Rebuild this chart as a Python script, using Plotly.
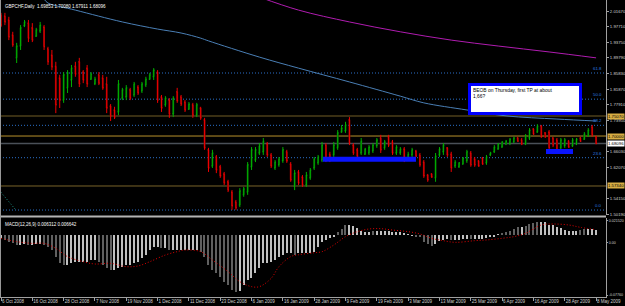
import plotly.graph_objects as go

# ---------------- data ----------------
symbol_title = "GBPCHF,Daily"
tick_bars = list(range(0, 153, 8))
tick_dates = ["6 Oct 2008", "16 Oct 2008", "28 Oct 2008", "7 Nov 2008", "19 Nov 2008",
              "1 Dec 2008", "11 Dec 2008", "23 Dec 2008", "6 Jan 2009", "16 Jan 2009",
              "28 Jan 2009", "9 Feb 2009", "19 Feb 2009", "3 Mar 2009", "13 Mar 2009",
              "25 Mar 2009", "6 Apr 2009", "16 Apr 2009", "28 Apr 2009", "8 May 2009"]

opens = [
    2.007, 2.004, 1.994, 1.956, 1.898, 1.928, 1.979, 1.986, 1.974, 1.953,
    1.966, 1.976, 1.921, 1.905, 1.877, 1.847, 1.791, 1.822, 1.842, 1.877,
    1.888, 1.862, 1.872, 1.844, 1.832, 1.855, 1.847, 1.832, 1.776, 1.766,
    1.761, 1.796, 1.799, 1.817, 1.804, 1.824, 1.814, 1.829, 1.844, 1.850,
    1.862, 1.799, 1.779, 1.791, 1.756, 1.812, 1.799, 1.786, 1.768, 1.779,
    1.753, 1.771, 1.741, 1.665, 1.624, 1.647, 1.622, 1.604, 1.584, 1.558,
    1.533, 1.525, 1.551, 1.558, 1.622, 1.639, 1.657, 1.660, 1.680, 1.652,
    1.619, 1.627, 1.637, 1.660, 1.629, 1.573, 1.609, 1.596, 1.576, 1.594,
    1.619, 1.632, 1.639, 1.677, 1.654, 1.652, 1.670, 1.710, 1.713, 1.741,
    1.677, 1.665, 1.657, 1.654, 1.657, 1.662, 1.675, 1.695, 1.670, 1.698,
    1.685, 1.657, 1.657, 1.667, 1.644, 1.652, 1.662, 1.652, 1.634, 1.601,
    1.604, 1.594, 1.652, 1.660, 1.670, 1.654, 1.624, 1.622, 1.629, 1.637,
    1.657, 1.642, 1.637, 1.644, 1.632, 1.652, 1.660, 1.667, 1.672, 1.680,
    1.682, 1.685, 1.695, 1.690, 1.680, 1.695, 1.718, 1.710, 1.725, 1.708,
    1.710, 1.695, 1.690, 1.670, 1.675, 1.687, 1.675, 1.680, 1.695, 1.692,
    1.700, 1.723, 1.69853]
highs = [
    2.012, 2.012, 2.002, 1.964, 1.936, 1.981, 1.994, 1.994, 1.986, 1.974,
    1.989, 1.981, 1.926, 1.918, 1.888, 1.855, 1.862, 1.867, 1.880, 1.888,
    1.898, 1.867, 1.880, 1.862, 1.850, 1.862, 1.855, 1.850, 1.781, 1.774,
    1.842, 1.822, 1.829, 1.822, 1.837, 1.829, 1.837, 1.850, 1.860, 1.872,
    1.867, 1.804, 1.801, 1.796, 1.801, 1.822, 1.804, 1.791, 1.786, 1.784,
    1.784, 1.774, 1.746, 1.670, 1.665, 1.652, 1.627, 1.609, 1.589, 1.563,
    1.538, 1.568, 1.571, 1.634, 1.672, 1.672, 1.682, 1.695, 1.685, 1.657,
    1.639, 1.647, 1.672, 1.665, 1.634, 1.614, 1.614, 1.601, 1.609, 1.619,
    1.647, 1.652, 1.685, 1.682, 1.660, 1.685, 1.715, 1.728, 1.736, 1.748,
    1.682, 1.670, 1.695, 1.670, 1.677, 1.682, 1.695, 1.703, 1.690, 1.703,
    1.690, 1.677, 1.672, 1.672, 1.660, 1.670, 1.665, 1.657, 1.639, 1.604,
    1.606, 1.657, 1.672, 1.682, 1.672, 1.660, 1.639, 1.634, 1.647, 1.665,
    1.662, 1.647, 1.639, 1.647, 1.652, 1.660, 1.677, 1.682, 1.687, 1.690,
    1.695, 1.698, 1.698, 1.695, 1.705, 1.720, 1.720, 1.730, 1.728, 1.710,
    1.715, 1.698, 1.695, 1.695, 1.695, 1.690, 1.695, 1.695, 1.698, 1.710,
    1.720, 1.728, 1.70080]
lows = [
    1.976, 1.981, 1.943, 1.926, 1.885, 1.918, 1.976, 1.938, 1.938, 1.951,
    1.961, 1.918, 1.880, 1.867, 1.758, 1.771, 1.784, 1.809, 1.824, 1.850,
    1.824, 1.834, 1.824, 1.842, 1.829, 1.829, 1.817, 1.758, 1.738, 1.743,
    1.753, 1.791, 1.791, 1.791, 1.799, 1.804, 1.809, 1.824, 1.842, 1.842,
    1.784, 1.761, 1.774, 1.746, 1.748, 1.784, 1.776, 1.761, 1.766, 1.746,
    1.748, 1.741, 1.665, 1.609, 1.619, 1.606, 1.594, 1.576, 1.558, 1.513,
    1.513, 1.520, 1.546, 1.551, 1.614, 1.634, 1.652, 1.652, 1.647, 1.619,
    1.614, 1.622, 1.632, 1.632, 1.584, 1.563, 1.576, 1.571, 1.571, 1.589,
    1.614, 1.627, 1.634, 1.634, 1.634, 1.647, 1.665, 1.708, 1.708, 1.677,
    1.652, 1.644, 1.652, 1.652, 1.652, 1.657, 1.670, 1.657, 1.665, 1.672,
    1.652, 1.652, 1.652, 1.634, 1.639, 1.647, 1.647, 1.622, 1.594, 1.584,
    1.594, 1.584, 1.647, 1.652, 1.647, 1.609, 1.619, 1.619, 1.627, 1.632,
    1.622, 1.622, 1.622, 1.627, 1.627, 1.649, 1.657, 1.665, 1.670, 1.677,
    1.677, 1.682, 1.685, 1.677, 1.677, 1.690, 1.703, 1.708, 1.695, 1.695,
    1.665, 1.672, 1.660, 1.665, 1.670, 1.670, 1.672, 1.677, 1.685, 1.690,
    1.698, 1.698, 1.67911]
closes = [
    1.981, 1.989, 1.951, 1.931, 1.928, 1.974, 1.989, 1.948, 1.943, 1.969,
    1.981, 1.926, 1.888, 1.875, 1.779, 1.791, 1.855, 1.860, 1.872, 1.857,
    1.832, 1.842, 1.832, 1.857, 1.844, 1.834, 1.822, 1.771, 1.751, 1.748,
    1.832, 1.817, 1.822, 1.796, 1.832, 1.809, 1.832, 1.844, 1.855, 1.867,
    1.791, 1.771, 1.796, 1.756, 1.796, 1.789, 1.781, 1.766, 1.781, 1.753,
    1.779, 1.746, 1.670, 1.619, 1.657, 1.614, 1.599, 1.581, 1.563, 1.523,
    1.518, 1.561, 1.566, 1.627, 1.665, 1.665, 1.675, 1.687, 1.652, 1.624,
    1.634, 1.642, 1.665, 1.637, 1.589, 1.606, 1.581, 1.576, 1.601, 1.614,
    1.642, 1.647, 1.677, 1.639, 1.639, 1.677, 1.708, 1.720, 1.728, 1.682,
    1.657, 1.649, 1.687, 1.667, 1.672, 1.677, 1.690, 1.665, 1.685, 1.677,
    1.657, 1.672, 1.667, 1.639, 1.654, 1.665, 1.649, 1.627, 1.599, 1.589,
    1.596, 1.649, 1.667, 1.677, 1.652, 1.619, 1.634, 1.632, 1.644, 1.660,
    1.627, 1.627, 1.624, 1.629, 1.647, 1.657, 1.672, 1.680, 1.685, 1.687,
    1.692, 1.695, 1.687, 1.680, 1.700, 1.715, 1.705, 1.725, 1.700, 1.698,
    1.670, 1.677, 1.665, 1.690, 1.690, 1.672, 1.690, 1.692, 1.687, 1.705,
    1.715, 1.703, 1.68096]

# moving averages (read at sample bars)
ma_blue_bars = [11, 12, 19, 31, 40, 46, 51, 53, 66, 76, 89, 102, 108, 119, 129, 142, 152]
ma_blue_vals = [2.047, 2.037, 2.019, 1.989, 1.971, 1.961, 1.948, 1.941, 1.900, 1.872,
                1.837, 1.801, 1.784, 1.766, 1.751, 1.743, 1.738]
ma_mag_bars = [66, 76, 89, 102, 115, 127, 140, 152]
ma_mag_vals = [2.052, 2.019, 1.989, 1.964, 1.943, 1.928, 1.913, 1.898]

# fibonacci retracement
fib_low = 1.5125
fib_high = 2.0742
fib_levels = [0.0, 23.6, 38.2, 50.0, 61.8, 100.0]
fib_trend_bars = [-1.0, 3.8]
fib_trend_vals = [1.569, 1.5125]

# horizontal support / resistance lines
sr_levels = [1.7507, 1.7000, 1.5734]
sr_colors = ["#735f27", "#b8922c", "#7a632a"]

# blue rectangles (bar from, bar to, top, bottom)
rect_x0 = [82.2, 139.2]
rect_x1 = [106.0, 146.1]
rect_top = [1.6476, 1.6671]
rect_bot = [1.6349, 1.6544]

note_text = "BEOB on Thursday, first TP at about<br>1,66?"
note_bar = 119.2
note_price = 1.8343

price_ticks = [2.01670, 1.97710, 1.93750, 1.89790, 1.85830, 1.81870, 1.77910,
               1.73950, 1.66030, 1.62070, 1.54150, 1.50190]

# MACD(12,26,9) main values (histogram) read per bar
macd = [
    -0.0042, -0.0063, -0.0084, -0.0106, -0.0127, -0.0127, -0.0118, -0.0127, -0.0127, -0.0118,
    -0.0118, -0.0127, -0.0148, -0.0190, -0.0274, -0.0359, -0.0380, -0.0380, -0.0359, -0.0338,
    -0.0338, -0.0338, -0.0338, -0.0317, -0.0317, -0.0338, -0.0380, -0.0422, -0.0443, -0.0443,
    -0.0422, -0.0401, -0.0380, -0.0380, -0.0359, -0.0338, -0.0295, -0.0253, -0.0190, -0.0148,
    -0.0148, -0.0169, -0.0169, -0.0190, -0.0190, -0.0190, -0.0190, -0.0190, -0.0190, -0.0190,
    -0.0190, -0.0211, -0.0274, -0.0380, -0.0443, -0.0485, -0.0528, -0.0591, -0.0633, -0.0696,
    -0.0722, -0.0705, -0.0633, -0.0570, -0.0549, -0.0485, -0.0422, -0.0359, -0.0359, -0.0338,
    -0.0317, -0.0274, -0.0253, -0.0232, -0.0232, -0.0253, -0.0232, -0.0232, -0.0232, -0.0232,
    -0.0211, -0.0148, -0.0084, -0.0063, -0.0042, -0.0013, 0.0034, 0.0072, 0.0127, 0.0127,
    0.0114, 0.0084, 0.0055, 0.0042, 0.0042, 0.0051, 0.0051, 0.0051, 0.0051, 0.0051,
    0.0042, 0.0034, 0.0034, 0.0021, 0.0004, -0.0004, -0.0013, -0.0030, -0.0084, -0.0114,
    -0.0139, -0.0114, -0.0072, -0.0063, -0.0055, -0.0063, -0.0063, -0.0063, -0.0055, -0.0051,
    -0.0055, -0.0055, -0.0055, -0.0051, -0.0042, -0.0030, -0.0013, 0.0004, 0.0021, 0.0042,
    0.0055, 0.0072, 0.0106, 0.0106, 0.0114, 0.0139, 0.0156, 0.0165, 0.0165, 0.0165,
    0.0127, 0.0127, 0.0106, 0.0084, 0.0063, 0.0055, 0.0055, 0.0051, 0.0063, 0.0072,
    0.0072, 0.0072, 0.006312]
signal_bars = [0, 4, 8, 11, 14, 17, 21, 24, 28, 32, 35, 38, 42, 45, 47, 51, 54, 58, 61, 64,
               66, 69, 71, 74, 76, 80, 82, 85, 88, 91, 94, 97, 100, 104, 107, 110, 113, 116,
               121, 124, 128, 131, 134, 138, 141, 145, 148, 152]
signal_vals = [-0.0042, -0.0084, -0.0106, -0.0106, -0.0169, -0.0274, -0.0338, -0.0367, -0.0359,
               -0.0401, -0.0392, -0.0338, -0.0253, -0.0211, -0.0190, -0.0211, -0.0317, -0.0464,
               -0.0591, -0.0654, -0.0654, -0.0549, -0.0401, -0.0274, -0.0250, -0.0225, -0.0211,
               -0.0127, -0.0021, 0.0042, 0.0076, 0.0080, 0.0063, 0.0042, 0.0013, -0.0042,
               -0.0072, -0.0093, -0.0072, -0.0063, -0.0042, -0.0021, 0.0021, 0.0127, 0.0139,
               0.0127, 0.0097, 0.006642]
macd_ticks = [0.0181, -0.0101, -0.0762]
macd_ticktext = ["0.021520", "0.00", "-0.07760"]

# ---------------- figure ----------------
FONT = "Liberation Sans, Arial, sans-serif"
FS_Y = 4.3
FS_Y2 = 3.6
FS_X = 4.5
FS_T = 4.5
FS_NOTE = 4.9
bars = list(range(len(closes)))
W, H = 625, 306
ML, MR, MT, MB = 0, 19, 0, 9
plot_w = W - ML - MR
px_per_bar = 3.915
xmin = -1 / px_per_bar
xmax = xmin + plot_w / px_per_bar
p_top, p_bot = 2.0446, 1.4999
main_dom = [0.2761, 1.0]
macd_dom = [0.0, 0.266]

fig = go.Figure()

fig.add_trace(go.Candlestick(
    x=bars, open=opens, high=highs, low=lows, close=closes,
    increasing=dict(fillcolor="#005a00", line=dict(color="#005a00", width=0)),
    decreasing=dict(fillcolor="#7a0000", line=dict(color="#7a0000", width=0)),
    whiskerwidth=0, hoverinfo="skip", xaxis="x", yaxis="y"))
fig.add_trace(go.Ohlc(
    x=bars, open=opens, high=highs, low=lows, close=closes,
    increasing=dict(line=dict(color="#00b000", width=1)),
    decreasing=dict(line=dict(color="#ee0000", width=1)),
    tickwidth=0.25, hoverinfo="skip", xaxis="x", yaxis="y"))

fig.add_trace(go.Scatter(x=ma_blue_bars, y=ma_blue_vals, mode="lines",
                         line=dict(color="#4a7fb5", width=1, shape="spline"),
                         hoverinfo="skip", xaxis="x", yaxis="y"))
fig.add_trace(go.Scatter(x=ma_mag_bars, y=ma_mag_vals, mode="lines",
                         line=dict(color="#b01cb0", width=1, shape="spline"),
                         hoverinfo="skip", xaxis="x", yaxis="y"))
fig.add_trace(go.Scatter(x=fib_trend_bars, y=fib_trend_vals, mode="lines",
                         line=dict(color="#1f9a8a", width=1, dash="1px,2px"),
                         hoverinfo="skip", xaxis="x", yaxis="y"))

# MACD histogram
hist_colors = []
for i, v in enumerate(macd):
    prev = macd[i - 1] if i > 0 else v
    hist_colors.append("#606060" if abs(v) > abs(prev) else "#c0c0c0")
fig.add_trace(go.Bar(x=bars, y=macd, marker=dict(color=hist_colors, line=dict(width=0)),
                     width=0.3, hoverinfo="skip", xaxis="x2", yaxis="y2"))
fig.add_trace(go.Scatter(x=signal_bars, y=signal_vals, mode="lines",
                         line=dict(color="#e00000", width=1, dash="1px,2px", shape="spline"),
                         hoverinfo="skip", xaxis="x2", yaxis="y2"))

shapes = []
fib_range = fib_high - fib_low
for lvl in fib_levels:
    price = fib_low + fib_range * lvl / 100.0
    shapes.append(dict(type="line", xref="paper", yref="y", x0=0, x1=1, y0=price, y1=price,
                       line=dict(color="#2a6fc8", width=1, dash="1px,2px"), layer="below"))
for lv, col in zip(sr_levels, sr_colors):
    shapes.append(dict(type="line", xref="paper", yref="y", x0=0, x1=1, y0=lv, y1=lv,
                       line=dict(color=col, width=1), layer="below"))
shapes.append(dict(type="line", xref="paper", yref="y", x0=0, x1=1, y0=closes[-1], y1=closes[-1],
                   line=dict(color="#4a5058", width=1.5), layer="below"))
for x0, x1, t, b in zip(rect_x0, rect_x1, rect_top, rect_bot):
    shapes.append(dict(type="rect", xref="x", yref="y", x0=x0, x1=x1, y0=b, y1=t,
                       fillcolor="#0a14ff", line=dict(width=0), layer="above"))
# panel separator and left border
shapes.append(dict(type="line", xref="paper", yref="paper", x0=0, x1=1,
                   y0=0.2711, y1=0.2711, line=dict(color="#b4b4b4", width=2)))
shapes.append(dict(type="line", xref="paper", yref="paper", x0=0.0008, x1=0.0008,
                   y0=0, y1=1, line=dict(color="#9a9a9a", width=1)))

annotations = []
for lvl in fib_levels[:-1]:
    price = fib_low + fib_range * lvl / 100.0
    annotations.append(dict(x=1, xref="paper", y=price, yref="y", text=f"{lvl:.1f}",
                            xanchor="right", yanchor="bottom", xshift=-2, yshift=0,
                            showarrow=False, font=dict(family=FONT, size=FS_Y, color="#2a7fe0")))
for lv in sr_levels:
    annotations.append(dict(x=1, xref="paper", y=lv, yref="y", text=f"{lv:.5f}",
                            xanchor="left", yanchor="middle", xshift=1, showarrow=False,
                            bgcolor="#d8ae44", borderpad=0,
                            font=dict(family=FONT, size=FS_Y, color="#000000")))
annotations.append(dict(x=1, xref="paper", y=closes[-1], yref="y", text=f"{closes[-1]:.5f}",
                        xanchor="left", yanchor="middle", xshift=1, showarrow=False,
                        bgcolor="#ffffff", borderpad=0,
                        font=dict(family=FONT, size=FS_Y, color="#000000")))
annotations.append(dict(x=0, xref="paper", y=1, yref="paper",
                        text=f"{symbol_title}  {opens[-1]:.5f} {highs[-1]:.5f} {lows[-1]:.5f} {closes[-1]:.5f}",
                        xanchor="left", yanchor="top", xshift=3, yshift=-2, showarrow=False,
                        font=dict(family=FONT, size=FS_T, color="#ffffff")))
annotations.append(dict(x=0, xref="paper", y=1, yref="y2 domain",
                        text=f"MACD(12,26,9) {macd[-1]:.6f} {signal_vals[-1]:.6f}",
                        xanchor="left", yanchor="top", xshift=3, yshift=-2, showarrow=False,
                        font=dict(family=FONT, size=FS_T, color="#ffffff")))
annotations.append(dict(x=note_bar, xref="x", y=note_price, yref="y", text=note_text,
                        xanchor="left", yanchor="top", align="left", valign="top",
                        width=104, height=22, showarrow=False, bgcolor="#ffffff",
                        bordercolor="#0000ff", borderwidth=3, borderpad=2,
                        font=dict(family=FONT, size=FS_NOTE, color="#000000")))

yfont = dict(family=FONT, size=FS_Y, color="#d0d0d0")
y2font = dict(family=FONT, size=FS_Y2, color="#d0d0d0")
xfont = dict(family=FONT, size=FS_X, color="#d0d0d0")
fig.update_layout(
    width=W, height=H, margin=dict(l=ML, r=MR, t=MT, b=MB, autoexpand=False),
    paper_bgcolor="#000000", plot_bgcolor="#000000", showlegend=False,
    bargap=0, shapes=shapes, annotations=annotations,
    xaxis=dict(domain=[0, 1], range=[xmin, xmax], anchor="y", showticklabels=False,
               showgrid=False, zeroline=False, showline=False, rangeslider=dict(visible=False),
               fixedrange=True, automargin=False),
    xaxis2=dict(domain=[0, 1], range=[xmin, xmax], anchor="y2", matches="x",
                tickmode="array", tickvals=tick_bars, ticktext=tick_dates, tickangle=0,
                ticklabelposition="outside right", ticks="outside", ticklen=3,
                tickcolor="#a0a0a0", tickfont=xfont, showgrid=False, zeroline=False,
                showline=True, linecolor="#a0a0a0", linewidth=1, automargin=False),
    yaxis=dict(domain=main_dom, range=[p_bot, p_top], side="right", anchor="x",
               tickmode="array", tickvals=price_ticks,
               ticktext=[f"{v:.5f}" for v in price_ticks], ticks="outside", ticklen=2,
               tickcolor="#a0a0a0", tickfont=yfont, showgrid=False, zeroline=False,
               showline=True, linecolor="#a0a0a0", linewidth=1, automargin=False),
    yaxis2=dict(domain=macd_dom, range=[-0.0785, 0.02152], side="right", anchor="x2",
                tickmode="array", tickvals=macd_ticks, ticktext=macd_ticktext,
                ticks="outside", ticklen=1, tickcolor="#a0a0a0", tickfont=y2font,
                showgrid=False, zeroline=False, showline=True, linecolor="#a0a0a0",
                linewidth=1, automargin=False),
)

fig.write_html("out.html")
